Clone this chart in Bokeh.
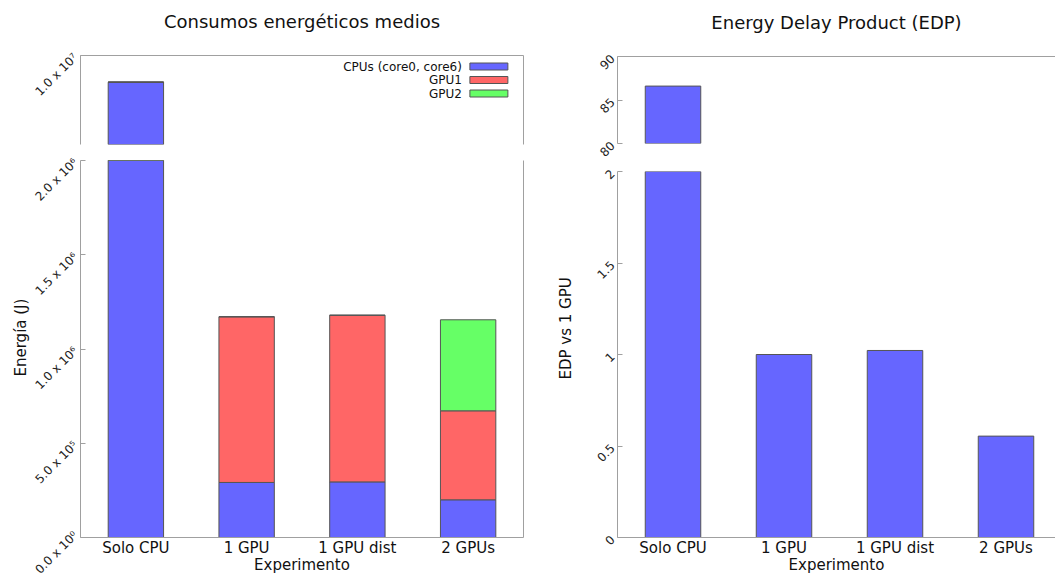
from math import pi
from bokeh.plotting import figure
from bokeh.layouts import row, column
from bokeh.models import (ColumnDataSource, LinearAxis, FixedTicker, Range1d,
                          Label, Title, CDSView, BooleanFilter)
from bokeh.embed import file_html
from bokeh.resources import INLINE

# ---------------- data ----------------
categories = ["Solo CPU", "1 GPU", "1 GPU dist", "2 GPUs"]
energy_cpu = [9.85e6, 2.92e5, 2.95e5, 2.00e5]
energy_gpu1 = [0.0, 8.79e5, 8.84e5, 4.72e5]
energy_gpu2 = [0.0, 0.0, 0.0, 4.83e5]
edp_rel = [86.6, 1.0, 1.022, 0.554]

series_names = ["CPUs (core0, core6)", "GPU1", "GPU2"]
series_colors = ["#6666ff", "#ff6666", "#66ff66"]

energy_ticks_low = [0, 500000, 1000000, 1500000, 2000000]
energy_labels_low = ["0.0 x 10\u2070", "5.0 x 10\u2075", "1.0 x 10\u2076",
                     "1.5 x 10\u2076", "2.0 x 10\u2076"]
energy_ticks_high = [10000000]
energy_labels_high = ["1.0 x 10\u2077"]
edp_ticks_low = [0, 0.5, 1, 1.5, 2]
edp_labels_low = ["0", "0.5", "1", "1.5", "2"]
edp_ticks_high = [80, 85, 90]
edp_labels_high = ["80", "85", "90"]

energy_low_range = (0, 2.0e6)
energy_high_range = (9.5e6, 1.0e7)
edp_low_range = (0, 2.0)
edp_high_range = (80, 90)

FONT = "DejaVu Sans"
GRAY = "#a0a0a0"
BAR_LINE = "#555555"
TXT = "#111111"

xs = list(range(len(categories)))
totals = [a + b + c for a, b, c in zip(energy_cpu, energy_gpu1, energy_gpu2)]
src = ColumnDataSource(dict(x=xs, cat=categories, cpu=energy_cpu,
                            gpu1=energy_gpu1, gpu2=energy_gpu2, edp=edp_rel))
view_e_high = CDSView(filter=BooleanFilter([t > energy_high_range[0] for t in totals]))
view_edp_high = CDSView(filter=BooleanFilter([v > edp_high_range[0] for v in edp_rel]))


def make_fig(w, h, x_end, yr, ml, mr, mt, mb):
    p = figure(width=w, height=h, x_range=Range1d(-0.5, x_end),
               y_range=Range1d(*yr), output_backend="svg",
               toolbar_location=None, min_border_left=ml,
               min_border_right=mr, min_border_top=mt, min_border_bottom=mb)
    p.grid.visible = False
    p.outline_line_color = None
    p.background_fill_color = "white"
    p.border_fill_color = "white"
    return p


def style_y(ax, ticks, labels):
    ax.ticker = FixedTicker(ticks=ticks)
    ax.major_label_overrides = dict(zip(ticks, labels))
    ax.major_label_orientation = pi / 4
    ax.major_label_text_font = FONT
    ax.major_label_text_font_size = "12px"
    ax.major_label_text_color = "#222222"
    ax.major_label_standoff = 5
    ax.major_tick_in = 5
    ax.major_tick_out = 0
    ax.major_tick_line_color = GRAY
    ax.minor_tick_line_color = None
    ax.axis_line_color = GRAY


def style_x(ax, label):
    ax.ticker = FixedTicker(ticks=xs)
    ax.major_label_overrides = dict(zip(xs, categories))
    ax.major_label_text_font = FONT
    ax.major_label_text_font_size = "15px"
    ax.major_label_text_color = TXT
    ax.major_label_standoff = 1
    ax.major_tick_in = 0
    ax.major_tick_out = 0
    ax.major_tick_line_color = None
    ax.minor_tick_line_color = None
    ax.axis_line_color = GRAY
    ax.axis_label = label
    ax.axis_label_text_font = FONT
    ax.axis_label_text_font_size = "15px"
    ax.axis_label_text_font_style = "normal"
    ax.axis_label_text_color = TXT
    ax.axis_label_standoff = -4


def border_axis(p, side, label=None):
    ax = LinearAxis(ticker=FixedTicker(ticks=[]), axis_line_color=GRAY,
                    major_tick_line_color=None, minor_tick_line_color=None,
                    major_label_text_font_size="0px")
    if label:
        ax.axis_label = label
        ax.axis_label_text_font = FONT
        ax.axis_label_text_font_size = "18px"
        ax.axis_label_text_font_style = "normal"
        ax.axis_label_text_color = TXT
        ax.axis_label_standoff = 24
    p.add_layout(ax, side)


def y_title(p, text, standoff, offset):
    p.add_layout(Title(text=text, align="left", text_font=FONT,
                       text_font_size="15px", text_font_style="normal",
                       text_color=TXT, standoff=standoff, offset=offset),
                 "left")


# ---------------- left: energy ----------------
L_W = 540
lt = make_fig(L_W, 148, 3.5, energy_high_range, 80, 17, 55, 4)
lb = make_fig(L_W, 428, 3.5, energy_low_range, 80, 17, 12, 39)
lt.vbar_stack(["cpu", "gpu1", "gpu2"], x="x", width=0.5, source=src,
              view=view_e_high, fill_color=series_colors,
              line_color=BAR_LINE, line_width=1)
lb.vbar_stack(["cpu", "gpu1", "gpu2"], x="x", width=0.5, source=src,
              fill_color=series_colors, line_color=BAR_LINE, line_width=1)
for p in (lt, lb):
    border_axis(p, "right")
lt.xaxis.visible = False
border_axis(lt, "above", "Consumos energ\u00e9ticos medios")
style_y(lt.yaxis[0], energy_ticks_high, energy_labels_high)
style_y(lb.yaxis[0], energy_ticks_low, energy_labels_low)
style_x(lb.xaxis[0], "Experimento")
y_title(lb, "Energ\u00eda (J)", -10, 161)

# legend (gnuplot style: text then swatch)
px_lt_y = (energy_high_range[1] - energy_high_range[0]) / 89.0
for i, (name, col) in enumerate(zip(series_names, series_colors)):
    yc = energy_high_range[1] - (11 + 13.5 * i) * px_lt_y
    lt.add_layout(Label(x=2.944, y=yc, text=name, text_align="right",
                        text_baseline="middle", text_font=FONT,
                        text_font_size="12px", text_color=TXT))
    lt.quad(left=3.016, right=3.359, top=yc + 3.5 * px_lt_y,
            bottom=yc - 3.5 * px_lt_y, fill_color=col, line_color=BAR_LINE,
            line_width=1)

# ---------------- right: EDP ----------------
R_W, R_FW = 515, 438
r_end = -0.5 + R_FW / 111.0
rt = make_fig(R_W, 161, r_end, edp_high_range, 77, 0, 56, 18)
rb = make_fig(R_W, 415, r_end, edp_low_range, 77, 0, 10, 37)
rt.vbar(x="x", top="edp", bottom=edp_high_range[0], width=0.5, source=src,
        view=view_edp_high, fill_color=series_colors[0], line_color=BAR_LINE,
        line_width=1)
rb.vbar(x="x", top="edp", width=0.5, source=src, fill_color=series_colors[0],
        line_color=BAR_LINE, line_width=1)
rt.xaxis.visible = False
border_axis(rt, "above", "Energy Delay Product (EDP)")
style_y(rt.yaxis[0], edp_ticks_high, edp_labels_high)
style_y(rb.yaxis[0], edp_ticks_low, edp_labels_low)
style_x(rb.xaxis[0], "Experimento")
y_title(rb, "EDP vs 1 GPU", 29, 158)

layout = row(column(lt, lb), column(rt, rb))
open("out.html", "w").write(file_html(layout, INLINE))
